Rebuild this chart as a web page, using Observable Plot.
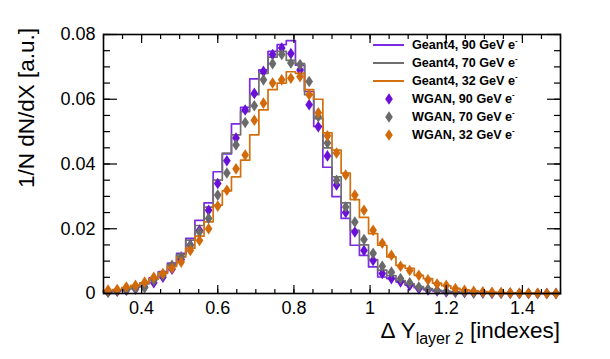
<!DOCTYPE html>
<html><head><meta charset="utf-8">
<script src="https://cdn.jsdelivr.net/npm/d3@7"></script>
<script src="https://cdn.jsdelivr.net/npm/@observablehq/plot@0.6"></script>
<style>
body{margin:0;background:#fff;}
#chart{width:610px;height:359px;position:relative;}
svg{font-family:"Liberation Sans",Arial,Helvetica,sans-serif;}
</style>
</head><body><div id="chart"></div>
<script>
// Binning: 50 bins from 0.3 to 1.5
const xMin = 0.3, xMax = 1.5, nBins = 50;

const geant4_90 = [0.0006,0.001,0.0015,0.0022,0.0033,0.0048,0.0068,0.0094,0.0124,0.017,
  0.0226,0.028,0.0376,0.0431,0.0524,0.0575,0.0663,0.0691,0.0748,0.0769,
  0.0781,0.0705,0.0624,0.0516,0.039,0.0299,0.0232,0.0149,0.0118,0.0082,
  0.0051,0.0046,0.0036,0.0026,0.0018,0.0012,0.0008,0.0005,0.0003,0.0002,
  0.0001,0.0001,0.0001,0,0,0,0,0,0,0];
const geant4_70 = [0.0005,0.0009,0.0014,0.002,0.003,0.0045,0.0065,0.009,0.012,0.0165,
  0.021,0.0267,0.035,0.0434,0.049,0.0562,0.0614,0.068,0.073,0.0748,
  0.072,0.071,0.0614,0.054,0.045,0.036,0.028,0.0195,0.015,0.0105,
  0.0072,0.0055,0.004,0.003,0.0021,0.0015,0.001,0.0007,0.0005,0.0003,
  0.0002,0.0001,0.0001,0.0001,0,0,0,0,0,0];
const geant4_32 = [0.0008,0.0012,0.0018,0.0025,0.0033,0.0045,0.0062,0.0084,0.0113,0.014,
  0.0177,0.0221,0.0273,0.0317,0.036,0.0412,0.049,0.0567,0.063,0.065,
  0.0685,0.068,0.063,0.06,0.0496,0.0443,0.0372,0.029,0.0235,0.0185,
  0.0149,0.0113,0.0087,0.0078,0.0056,0.0046,0.0032,0.0024,0.0016,0.0011,
  0.0008,0.0006,0.0004,0.0003,0.0002,0.0001,0.0001,0,0,0];
const wgan_90 = [0.0005,0.0007,0.001,0.0014,0.002,0.0033,0.005,0.0075,0.0105,0.015,
  0.0195,0.0257,0.034,0.041,0.048,0.0567,0.0618,0.0686,0.0738,0.0758,
  0.0741,0.069,0.0583,0.0515,0.0425,0.0335,0.025,0.019,0.0133,0.0102,
  0.0062,0.0046,0.0036,0.0025,0.0015,0.0011,0.0008,0.0005,0.0004,0.0003,
  0.0002,0.0002,0.0001,0.0001,0.0001,0,0,0,0,0];
const wgan_70 = [0.0004,0.0008,0.0011,0.0015,0.0018,0.004,0.0056,0.0087,0.0113,0.0149,
  0.019,0.0232,0.0304,0.0372,0.0459,0.0528,0.058,0.066,0.071,0.0738,
  0.0712,0.0707,0.0655,0.0546,0.0465,0.035,0.0267,0.0221,0.0167,0.0124,
  0.0084,0.0066,0.0046,0.0033,0.002,0.0014,0.001,0.0007,0.0005,0.0004,
  0.0002,0.0002,0.0001,0.0001,0.0001,0,0,0,0,0];
const wgan_32 = [0.0011,0.0012,0.002,0.0025,0.0035,0.005,0.0062,0.0078,0.0097,0.0133,
  0.0164,0.02,0.027,0.0319,0.0385,0.0428,0.0535,0.0588,0.065,0.066,
  0.0665,0.067,0.0614,0.0558,0.0487,0.0434,0.0366,0.0304,0.0257,0.0195,
  0.0155,0.0118,0.0084,0.0071,0.0056,0.0042,0.0029,0.0025,0.0015,0.001,
  0.0007,0.0005,0.0004,0.0003,0.0002,0.0001,0.0001,0.0001,0,0];

const xTicks = [0.4, 0.6, 0.8, 1.0, 1.2, 1.4];
const xTickLabels = ["0.4", "0.6", "0.8", "1", "1.2", "1.4"];
const yTicks = [0, 0.02, 0.04, 0.06, 0.08];
const yTickLabels = ["0", "0.02", "0.04", "0.06", "0.08"];

const seriesNames = ["Geant4, 90 GeV e", "Geant4, 70 GeV e", "Geant4, 32 GeV e",
                     "WGAN, 90 GeV e", "WGAN, 70 GeV e", "WGAN, 32 GeV e"];
const histColors = ["#7b2be0", "#6f6f6f", "#d2700f"];
const pointColors = ["#6a10d8", "#6a6a6a", "#d26a0c"];

const binW = (xMax - xMin) / nBins;
function stepData(vals, name) {
  const out = [];
  vals.forEach((v, i) => {
    out.push({x: xMin + i * binW, y: v, s: name});
    out.push({x: xMin + (i + 1) * binW, y: v, s: name});
  });
  return out;
}
function pointData(vals, name) {
  return vals.map((v, i) => ({x: xMin + (i + 0.5) * binW, y: v, s: name}));
}

const hists = [geant4_90, geant4_70, geant4_32];
const wgans = [wgan_90, wgan_70, wgan_32];

const narrowDiamond = {
  draw(context, size) {
    const r = Math.sqrt(size / Math.PI);
    const w = r * 0.66;
    context.moveTo(0, -r);
    context.lineTo(w, 0);
    context.lineTo(0, r);
    context.lineTo(-w, 0);
    context.closePath();
  }
};

const xMinor = d3.range(0, 25).map(i => +(xMin + i * 0.05).toFixed(3));
const yMinor = d3.range(0, 17).map(i => +(i * 0.005).toFixed(4));
const fmtX = d => xTickLabels[xTicks.findIndex(t => Math.abs(t - d) < 1e-9)];
const fmtY = d => yTickLabels[yTicks.findIndex(t => Math.abs(t - d) < 1e-9)];

const marks = [];
hists.forEach((h, k) => {
  marks.push(Plot.line(stepData(h, seriesNames[k]), {x: "x", y: "y", stroke: histColors[k], strokeWidth: 1.7}));
});
wgans.forEach((w, k) => {
  marks.push(Plot.dot(pointData(w, seriesNames[k + 3]), {x: "x", y: "y", symbol: narrowDiamond, r: 5.8, fill: pointColors[k], stroke: "none"}));
});
// axes: ticks pointing inward on all four sides
marks.push(
  Plot.axisX({anchor: "bottom", ticks: xMinor, tickSize: -4, text: null, strokeWidth: 1.2}),
  Plot.axisX({anchor: "bottom", ticks: xTicks, tickSize: -8, text: null, strokeWidth: 1.2}),
  Plot.axisX({anchor: "bottom", ticks: xTicks, tickSize: 0, tickPadding: 8, tickFormat: fmtX, fontSize: 18, fill: "#000", label: null}),
  Plot.axisX({anchor: "top", ticks: xMinor, tickSize: -4, text: null, strokeWidth: 1.2, label: null}),
  Plot.axisX({anchor: "top", ticks: xTicks, tickSize: -8, text: null, strokeWidth: 1.2, label: null}),
  Plot.axisY({anchor: "left", ticks: yMinor, tickSize: -7, text: null, strokeWidth: 1.2}),
  Plot.axisY({anchor: "left", ticks: yTicks, tickSize: -14, text: null, strokeWidth: 1.2}),
  Plot.axisY({anchor: "left", ticks: yTicks, tickSize: 0, tickPadding: 8, tickFormat: fmtY, fontSize: 18, fill: "#000", label: null}),
  Plot.axisY({anchor: "right", ticks: yMinor, tickSize: -7, text: null, strokeWidth: 1.2, label: null}),
  Plot.axisY({anchor: "right", ticks: yTicks, tickSize: -14, text: null, strokeWidth: 1.2, label: null}),
  Plot.frame({stroke: "#000", strokeWidth: 1.6})
);

const plot = Plot.plot({
  width: 610, height: 359,
  marginLeft: 103, marginRight: 50, marginTop: 34, marginBottom: 66,
  x: {domain: [xMin, xMax], label: null},
  y: {domain: [0, 0.08], label: null},
  style: {fontFamily: '"Liberation Sans", Arial, Helvetica, sans-serif', background: "#fff", overflow: "visible"},
  marks
});
document.getElementById("chart").appendChild(plot);

const svg = d3.select(plot);
const sx = plot.scale("x"), sy = plot.scale("y");

// Y axis title
svg.append("text")
  .attr("transform", `translate(28,${sy.apply(0.08) - 6}) rotate(-90)`)
  .attr("text-anchor", "end").attr("dominant-baseline", "middle")
  .attr("font-size", 22.5).attr("fill", "#000")
  .text("1/N dN/dX [a.u.]");

// X axis title with subscript
const xt = svg.append("text")
  .attr("x", sx.apply(xMax)).attr("y", 338)
  .attr("text-anchor", "end").attr("font-size", 22.5).attr("fill", "#000");
xt.append("tspan").text("Δ Y");
xt.append("tspan").attr("font-size", 16).attr("dy", 6).text("layer 2");
xt.append("tspan").attr("dy", -6).text(" [indexes]");

// Legend
const lg = svg.append("g").attr("font-size", 12.6).attr("font-weight", "bold").attr("text-anchor", "start");
const rowY = [45, 63, 81, 99, 117, 135];
seriesNames.forEach((name, i) => {
  const y = rowY[i];
  if (i < 3) {
    lg.append("line").attr("x1", 373).attr("x2", 404).attr("y1", y).attr("y2", y)
      .attr("stroke", histColors[i]).attr("stroke-width", 2);
  } else {
    lg.append("path").attr("transform", `translate(389,${y})`)
      .attr("d", d3.symbol(narrowDiamond, 5.8 * 5.8 * Math.PI)())
      .attr("fill", pointColors[i - 3]);
  }
  const t = lg.append("text").attr("x", 412).attr("y", y).attr("dy", "0.35em").attr("fill", "#000");
  t.append("tspan").text(name);
  t.append("tspan").attr("font-size", 8).attr("dy", -6).text("-");
});
</script>
</body></html>
